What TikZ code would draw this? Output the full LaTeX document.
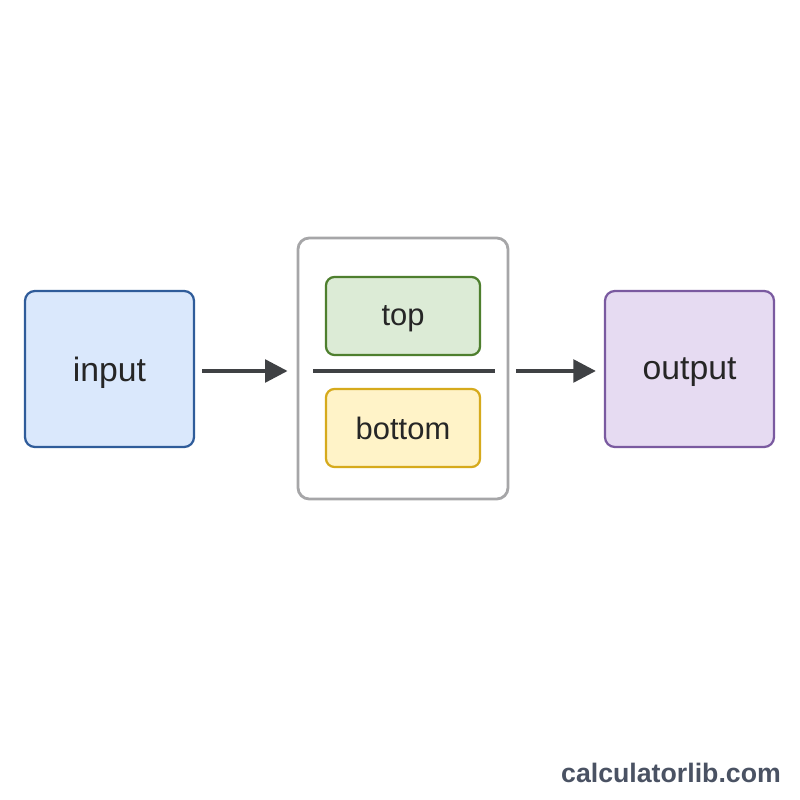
\documentclass[tikz,border=0pt]{standalone}
\usepackage{fontspec}
\setmainfont{Liberation Sans}
\usepackage{xcolor}
\usetikzlibrary{positioning,arrows.meta,calc}
\definecolor{inblue}{HTML}{DAE8FC}
\definecolor{inblueD}{HTML}{2F5C9A}
\definecolor{topgrn}{HTML}{DCEBD6}
\definecolor{topgrnD}{HTML}{4E7F2E}
\definecolor{botyel}{HTML}{FFF3C8}
\definecolor{botyelD}{HTML}{D6AA1C}
\definecolor{outvio}{HTML}{E6DBF2}
\definecolor{outvioD}{HTML}{7A5AA0}
\definecolor{grpgray}{HTML}{A6A6A8}
\definecolor{ink}{HTML}{3F4144}
\definecolor{wmgray}{HTML}{4A5263}
\tikzset{
  io/.style  ={rectangle, rounded corners=7pt, line width=1.6pt, minimum width=4.225cm, minimum height=3.9cm, inner sep=0pt, text depth=0pt, font=\fontsize{24}{28}\selectfont, text=black!85},
  grp/.style ={rectangle, rounded corners=8pt, draw=grpgray, line width=2pt, fill=white, minimum width=5.25cm, minimum height=6.525cm, inner sep=0pt},
  sub/.style ={rectangle, rounded corners=6pt, line width=1.6pt, minimum width=3.85cm, minimum height=1.95cm, inner sep=0pt, text depth=0pt, font=\fontsize{22}{26}\selectfont, text=black!85},
  edge/.style={-{Triangle[length=16pt, width=16pt]}, line width=2.8pt, draw=ink},
  rule/.style={line width=2.8pt, draw=ink},
  wm/.style  ={font=\bfseries\fontsize{19}{22}\selectfont, text=wmgray},
}
\begin{document}
\begin{tikzpicture}
        \useasboundingbox (0,0) rectangle (20,20);
        \node[io,draw=inblueD,fill=inblue]   (in)  at (2.7375,10.775)  {input};
        \node[grp]                            (mid) at (10.075,10.7875) {};
        \node[sub,draw=topgrnD,fill=topgrn]   (top) at (10.075,12.1)    {top};
        \node[sub,draw=botyelD,fill=botyel]   (bot) at (10.075,9.3)     {bottom};
        \node[io,draw=outvioD,fill=outvio]    (out) at (17.2375,10.775) {output};
        \coordinate (divl) at (7.825,10.725);
        \coordinate (divr) at (12.375,10.725);
        \draw[rule] (divl) -- (divr);
        \draw[edge,shorten <=0.175cm,shorten >=0.225cm] (in.east |- divl) -- (mid.west |- divl);
        \draw[edge,shorten <=0.175cm,shorten >=0.2cm] (mid.east |- divl) -- (out.west |- divl);
        \node[wm] (site) at (16.775,0.675) {calculatorlib.com};
      \end{tikzpicture}
\end{document}
